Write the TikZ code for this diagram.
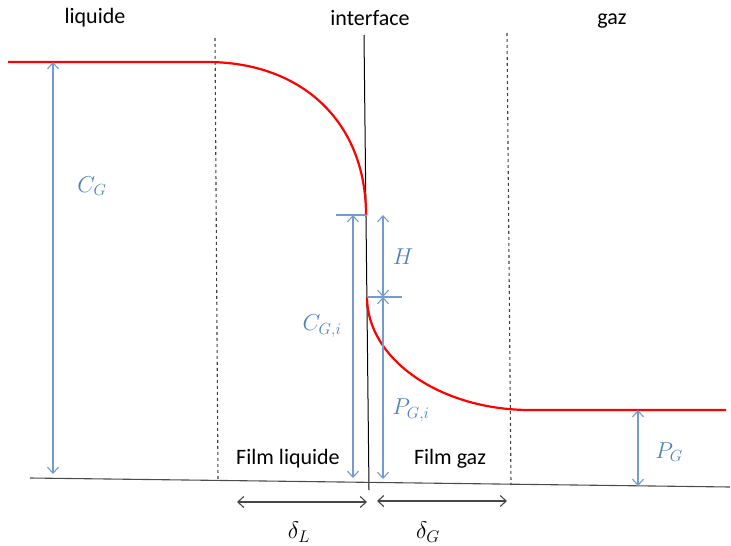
\RequirePackage{fix-cm}
\documentclass[tikz,border=0pt]{standalone}
\usepackage{fontspec}
\setmainfont{Carlito}
\usetikzlibrary{arrows.meta}

\definecolor{dimblue}{RGB}{79,129,189}
\definecolor{dimline}{RGB}{115,155,208}
\definecolor{filmgray}{RGB}{70,70,70}

\begin{document}
\begin{tikzpicture}[x=1pt, y=-1pt,
    lbl/.style={font=\fontsize{22}{26}\selectfont, inner sep=0pt},
    mlbl/.style={text=dimblue, font=\fontsize{23}{26}\selectfont, inner sep=0pt},
    dimline/.style={draw=dimline, line width=1.1pt,
                    {Straight Barb[length=6pt,width=11pt]}-{Straight Barb[length=6pt,width=11pt]}},
    tickline/.style={draw=dimline, line width=1.1pt},
    filmline/.style={draw=filmgray, line width=1.1pt,
                     {Straight Barb[length=6pt,width=11pt]}-{Straight Barb[length=6pt,width=11pt]}},
    profile/.style={draw=red, line width=2.2pt},
    boundary/.style={draw=black!75, line width=1.1pt, dash pattern=on 3pt off 3pt}]
    \path[use as bounding box] (0,0) rectangle (731,546);

    % zones
    \node[lbl] (liquide) at (95,18) {liquide};
    \node[lbl] (interface) at (370,18) {interface};
    \node[lbl] (gaz) at (612,21) {gaz};
    \node[lbl] (filmL) at (288,459) {Film liquide};
    \node[lbl] (filmG) at (450,459) {Film gaz};

    % points of the profile
    \coordinate (liqL) at (8,62);
    \coordinate (liqR) at (207,62);
    \coordinate (ifTop) at (366,215);
    \coordinate (ifBot) at (367,297);
    \coordinate (gazL) at (530,410);
    \coordinate (gazR) at (726,410);

    % axes and film limits
    \coordinate (intA) at (364,35);
    \coordinate (intB) at (369,490);
    \coordinate (baseA) at (30,478);
    \coordinate (baseB) at (730,487);
    \coordinate (limLA) at (215,38);
    \coordinate (limLB) at (218,480);
    \coordinate (limGA) at (507,33);
    \coordinate (limGB) at (511,485);
    \draw[black, line width=1pt] (intA) -- (intB);
    \draw[black!70, line width=1.1pt] (baseA) -- (baseB);
    \draw[boundary] (limLA) -- (limLB);
    \draw[boundary] (limGA) -- (limGB);

    % concentration profile
    \draw[profile] (liqL) -- (liqR)
        .. controls (302,62) and (366,122) .. (ifTop);
    \draw[profile] (ifBot)
        .. controls (367,359) and (440,410) .. (gazL) -- (gazR);

    % dimensions
    \coordinate (cgA) at (53,62);
    \coordinate (cgB) at (53,474);
    \coordinate (cgiA) at (353,215);
    \coordinate (cgiB) at (353,478);
    \coordinate (hA) at (383,215);
    \coordinate (hB) at (383,297);
    \coordinate (pgiB) at (383,479);
    \coordinate (pgA) at (638,410);
    \coordinate (pgB) at (638,486);
    \coordinate (tickA) at (336,215);
    \coordinate (tickB) at (402,297);
    \draw[tickline] (tickA) -- (ifTop);
    \draw[tickline] (ifBot) -- (tickB);
    \draw[dimline] (cgA) -- (cgB);
    \draw[dimline] (cgiA) -- (cgiB);
    \draw[dimline] (hA) -- (hB);
    \draw[dimline] (hB) -- (pgiB);
    \draw[dimline] (pgA) -- (pgB);
    \node[mlbl] (CG) at (92,186) {$C_G$};
    \node[mlbl] (CGi) at (322,326) {$C_{G,i}$};
    \node[mlbl] (H) at (403,257) {$H$};
    \node[mlbl] (PGi) at (411,410) {$P_{G,i}$};
    \node[mlbl] (PG) at (669,452) {$P_G$};

    % film thicknesses
    \coordinate (dlA) at (237,502);
    \coordinate (dlB) at (367,502);
    \coordinate (dgA) at (377,501);
    \coordinate (dgB) at (507,501);
    \draw[filmline] (dlA) -- (dlB);
    \draw[filmline] (dgA) -- (dgB);
    \node[font=\fontsize{24}{28}\selectfont, inner sep=0pt] (dL) at (299,532) {$\delta_L$};
    \node[font=\fontsize{24}{28}\selectfont, inner sep=0pt] (dG) at (428,532) {$\delta_G$};
\end{tikzpicture}
\end{document}
